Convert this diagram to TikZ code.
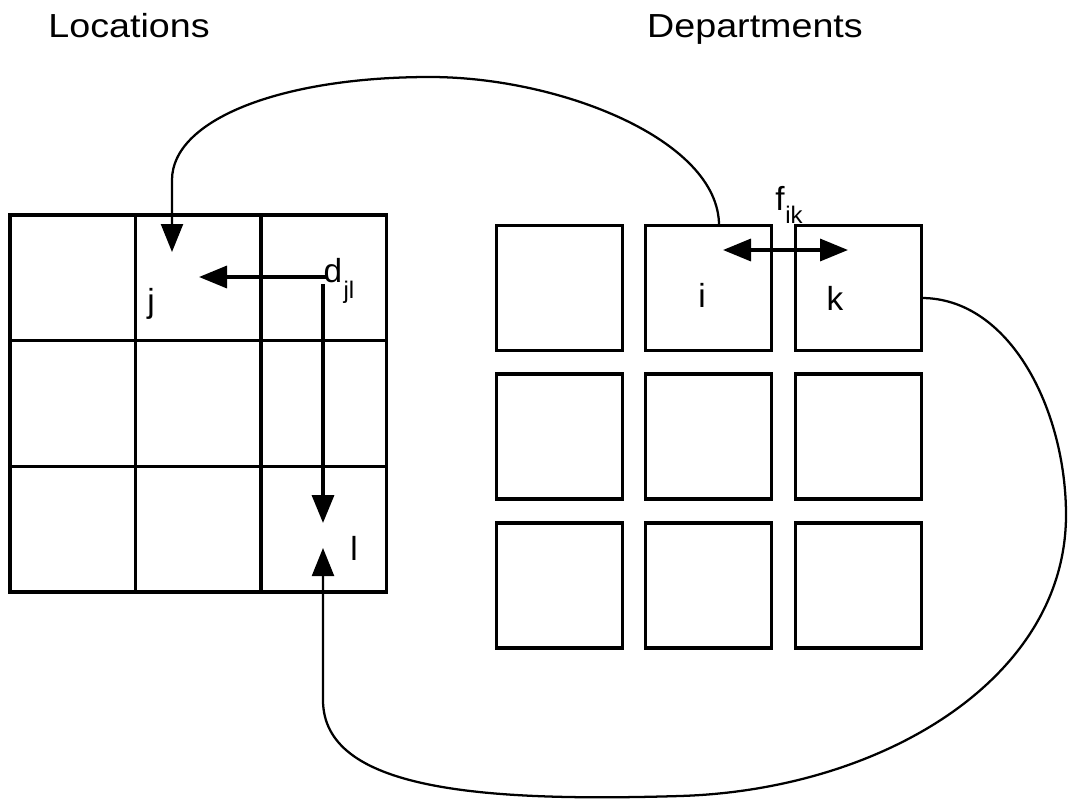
\documentclass[tikz,border=0pt]{standalone}
\usepackage{fontspec}
\setmainfont{Liberation Sans}
\usetikzlibrary{arrows.meta}
\begin{document}
\begin{tikzpicture}[x=0.75pt,y=-0.75pt,
  cell/.style={draw,line width=2.4pt,minimum width=94.1pt,minimum height=94.3pt,inner sep=0pt,outer sep=0pt},
  dept/.style={draw,line width=2.4pt,minimum width=94.5pt,minimum height=93.75pt,inner sep=0pt,outer sep=0pt},
  title/.style={font=\fontsize{25}{30}\selectfont,anchor=base,inner sep=0pt},
  lbl/.style={font=\fontsize{25}{30}\selectfont,anchor=base,inner sep=0pt},
  sublbl/.style={font=\fontsize{18}{21}\selectfont,anchor=base,inner sep=0pt},
  link/.style={line width=1.7pt},
  shaft/.style={line width=2.6pt},
  >={Triangle[length=21pt,width=16.5pt]}]
\useasboundingbox (0,0) rectangle (1068,800);

% headings
\node[title] (loc) at (129,37) {\scalebox{1.13}[1]{Locations}};
\node[title] (dep) at (755,37) {\scalebox{1.13}[1]{Departments}};

% 3x3 grid of locations
\foreach \c/\x in {1/72.75,2/198.25,3/323.75}
  \foreach \r/\y in {1/277.8,2/403.5,3/529.2}
    \node[cell] (L\r\c) at (\x,\y) {};

% 3x3 set of departments
\foreach \c/\x in {1/559.5,2/708.5,3/858.5}
  \foreach \r/\y in {1/288,2/436.5,3/585.5}
    \node[dept] (D\r\c) at (\x,\y) {};

% labels
\node[lbl] (j) at (151,312) {j};
\node[lbl] (l) at (354,560) {l};
\node[lbl] (d) at (333,282) {d};
\node[sublbl] (jl) at (349,298) {jl};
\node[lbl] (i) at (702,307) {i};
\node[lbl] (k) at (835,310) {k};
\node[lbl] (f) at (780,210) {f};
\node[sublbl] (ik) at (794,223) {ik};

% distance arrows d_jl
\coordinate (dstart) at (326,277);
\coordinate (jtipd) at (199,277);
\coordinate (ddown) at (323,284);
\coordinate (ltipd) at (323,523);
\draw[shaft,->] (dstart) -- (jtipd);
\draw[shaft,->] (ddown) -- (ltipd);

% flow arrow f_ik
\coordinate (fleft) at (723,250);
\coordinate (fright) at (848,250);
\draw[shaft,<->] (fleft) -- (fright);

% assignment of department i to location j
\coordinate (jtip) at (172,252);
\draw[link,->] ([xshift=7.9pt]D12.north)
  .. controls (719,140) and (560,77) .. (430,77)
  .. controls (280,77) and (172,120) .. (172,180) -- (jtip);

% assignment of department k to location l
\coordinate (ltip) at (323,548);
\draw[link,->] ([yshift=-7.5pt]D13.east)
  .. controls (1010,298) and (1066,410) .. (1066,515)
  .. controls (1066,680) and (880,790) .. (680,796)
  .. controls (480,802) and (323,790) .. (323,700) -- (ltip);
\end{tikzpicture}
\end{document}
